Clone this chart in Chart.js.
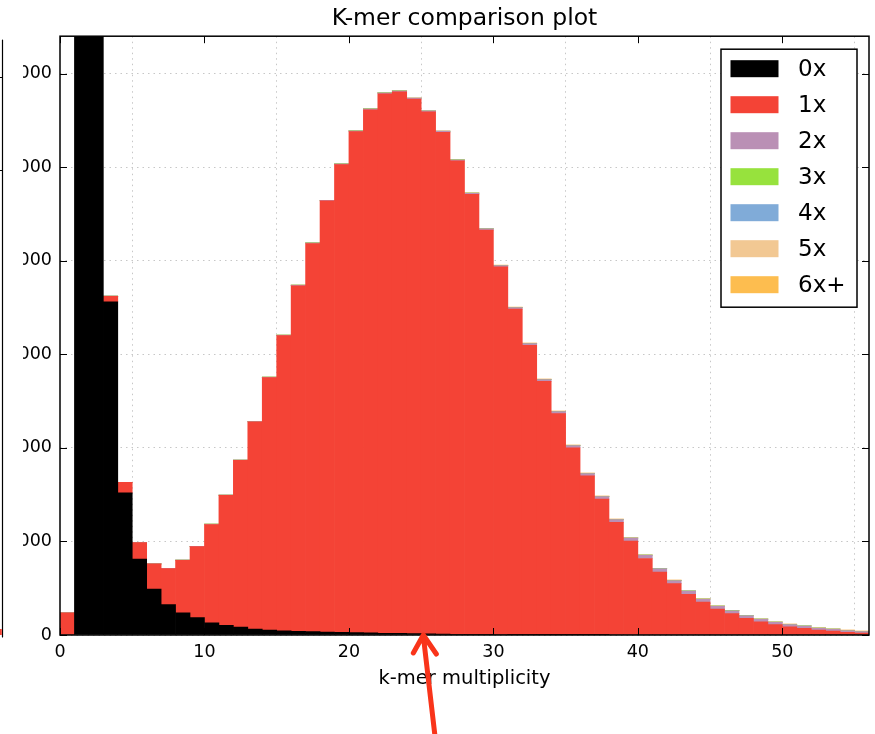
<!DOCTYPE html>
<html>
<head>
<meta charset="utf-8">
<title>K-mer comparison plot</title>
<script src="https://cdn.jsdelivr.net/npm/chart.js@4.4.1/dist/chart.umd.min.js"></script>
<style>
  html, body { margin: 0; padding: 0; background: #fff; }
  #wrap { position: relative; width: 875px; height: 734px; }
</style>
</head>
<body>
<div id="wrap"><canvas id="kmerChart" width="875" height="734"></canvas></div>
<script>
// histogram bins (left edge of each unit-wide bin)
const binStart = [
  0, 1, 2, 3, 4, 5, 6, 7, 8, 9,
  10, 11, 12, 13, 14, 15, 16, 17, 18, 19,
  20, 21, 22, 23, 24, 25, 26, 27, 28, 29,
  30, 31, 32, 33, 34, 35, 36, 37, 38, 39,
  40, 41, 42, 43, 44, 45, 46, 47, 48, 49,
  50, 51, 52, 53, 54, 55
];

// k-mers seen 0x, 1x, 2x ... in the second dataset
const kmer0x = [
  0, 16500, 9200, 3561, 1520, 812, 491, 324, 238, 185,
  131, 104, 85, 64, 53, 45, 40, 36, 32, 28,
  25, 22, 19, 17, 15, 12, 10, 8, 7, 6,
  5, 4, 3, 2, 2, 1, 1, 1, 0, 0,
  0, 0, 0, 0, 0, 0, 0, 0, 0, 0,
  0, 0, 0, 0, 0, 0
];
const kmer1x = [
  238, 300, 200, 60, 111, 177, 269, 386, 561, 760,
  1050, 1388, 1781, 2214, 2698, 3154, 3693, 4148, 4608, 4999,
  5355, 5592, 5766, 5789, 5712, 5579, 5363, 5059, 4703, 4322,
  3929, 3479, 3094, 2708, 2364, 2000, 1699, 1451, 1204, 1003,
  818, 672, 549, 436, 351, 277, 229, 177, 142, 111,
  88, 72, 52, 42, 29, 20
];
const kmer2x = [
  0, 0, 0, 1, 1, 1, 1, 2, 2, 2,
  3, 3, 3, 4, 4, 5, 5, 6, 6, 7,
  7, 8, 8, 8, 9, 9, 10, 10, 11, 12,
  14, 16, 18, 20, 22, 24, 26, 28, 30, 32,
  34, 34, 33, 32, 31, 30, 29, 27, 26, 25,
  24, 22, 20, 19, 18, 17
];
const kmer3x = [
  0, 0, 0, 0, 0, 0, 0, 0, 0, 0,
  1, 1, 1, 1, 1, 1, 1, 1, 1, 1,
  1, 1, 1, 1, 1, 1, 1, 1, 1, 1,
  1, 1, 1, 1, 1, 1, 1, 1, 1, 1,
  2, 2, 2, 2, 2, 2, 2, 2, 2, 2,
  2, 2, 2, 2, 2, 2
];
const kmer4x = [
  0, 0, 0, 0, 0, 0, 0, 0, 0, 0,
  0, 0, 0, 0, 0, 0, 0, 0, 0, 0,
  1, 1, 1, 1, 1, 1, 1, 1, 1, 1,
  1, 1, 1, 1, 1, 1, 1, 1, 1, 1,
  1, 1, 1, 1, 1, 1, 1, 1, 1, 1,
  1, 1, 1, 1, 1, 1
];
const kmer5x = [
  0, 0, 0, 0, 0, 0, 0, 0, 0, 0,
  0, 0, 0, 0, 0, 0, 0, 0, 0, 0,
  2, 2, 2, 2, 2, 2, 2, 2, 2, 2,
  2, 2, 2, 2, 2, 2, 2, 2, 2, 2,
  2, 2, 2, 2, 2, 2, 2, 2, 2, 2,
  2, 2, 2, 2, 2, 2
];
const kmer6xPlus = [
  0, 0, 0, 0, 0, 0, 0, 0, 0, 0,
  0, 0, 0, 0, 0, 0, 0, 0, 0, 0,
  1, 1, 1, 1, 1, 1, 1, 1, 1, 1,
  1, 1, 1, 1, 1, 1, 1, 1, 1, 1,
  1, 1, 1, 1, 1, 1, 1, 1, 1, 1,
  1, 1, 1, 1, 1, 1
];

const seriesLabels = ['0x', '1x', '2x', '3x', '4x', '5x', '6x+'];
const seriesColors = ['#000000', '#f44336', '#ba90b5', '#97e23d', '#80abd8', '#f2c893', '#fdbd4f'];
const xTicks = [0, 10, 20, 30, 40, 50];
const yTicks = [0, 1000, 2000, 3000, 4000, 5000, 6000];

const FONT = "'DejaVu Sans', sans-serif";
const GRID = 'rgba(0, 0, 0, 0.22)';

const toPoints = values => values.map((v, i) => ({ x: binStart[i] + 0.5, y: v }));
const allSeries = [kmer0x, kmer1x, kmer2x, kmer3x, kmer4x, kmer5x, kmer6xPlus];

const datasets = allSeries.map((values, i) => ({
    label: seriesLabels[i],
    data: toPoints(values),
    backgroundColor: seriesColors[i],
    borderWidth: 0,
    barPercentage: 1,
    categoryPercentage: 1,
    clip: 0
}));

// matplotlib-style frame with inward ticks on all four sides
const framePlugin = {
    id: 'frame',
    afterDraw(chart) {
        const { ctx, chartArea: a, scales: { x, y } } = chart;
        ctx.save();
        ctx.strokeStyle = '#000';
        ctx.lineWidth = 1;
        ctx.beginPath();
        xTicks.forEach(v => {
            const px = Math.round(x.getPixelForValue(v)) + 0.5;
            ctx.moveTo(px, a.bottom); ctx.lineTo(px, a.bottom - 7);
            ctx.moveTo(px, a.top); ctx.lineTo(px, a.top + 7);
        });
        yTicks.forEach(v => {
            const py = Math.round(y.getPixelForValue(v)) + 0.5;
            ctx.moveTo(a.left, py); ctx.lineTo(a.left + 7, py);
            ctx.moveTo(a.right, py); ctx.lineTo(a.right - 7, py);
        });
        ctx.stroke();
        ctx.lineWidth = 1.5;
        ctx.strokeRect(a.left, a.top, a.right - a.left, a.bottom - a.top);
        ctx.restore();
    }
};

// boxed legend in the upper right corner of the plot
const boxLegendPlugin = {
    id: 'boxLegend',
    afterDraw(chart) {
        const { ctx, chartArea: a } = chart;
        const left = a.right - 148, top = a.top + 13;
        const w = 136, h = 258;
        ctx.save();
        ctx.fillStyle = '#fff';
        ctx.fillRect(left, top, w, h);
        ctx.strokeStyle = '#000';
        ctx.lineWidth = 1.5;
        ctx.strokeRect(left, top, w, h);
        ctx.font = `23px ${FONT}`;
        ctx.textBaseline = 'middle';
        chart.data.datasets.forEach((ds, i) => {
            const cy = top + 19.5 + i * 36;
            ctx.fillStyle = ds.backgroundColor;
            ctx.fillRect(left + 9.5, cy - 8.5, 48, 17);
            ctx.fillStyle = '#000';
            ctx.fillText(ds.label, left + 77, cy + 1);
        });
        ctx.restore();
    }
};

// red arrow pointing up at the x axis, plus the edge of the neighbouring panel
const markupPlugin = {
    id: 'markup',
    afterDraw(chart) {
        const { ctx, chartArea: a, scales: { x } } = chart;
        const tipX = x.getPixelForValue(25.15), tipY = a.bottom - 1;
        ctx.save();
        ctx.strokeStyle = '#f9341a';
        ctx.lineWidth = 5;
        ctx.lineCap = 'round';
        ctx.lineJoin = 'round';
        ctx.beginPath();
        ctx.moveTo(tipX + 12, chart.height + 5);
        ctx.lineTo(tipX, tipY + 2);
        ctx.moveTo(tipX - 10, tipY + 19);
        ctx.lineTo(tipX, tipY + 1);
        ctx.lineTo(tipX + 13, tipY + 20);
        ctx.stroke();

        ctx.fillStyle = '#fff';
        ctx.fillRect(0, 0, 23, chart.height);
        ctx.strokeStyle = '#000';
        ctx.lineWidth = 1.2;
        ctx.beginPath();
        ctx.moveTo(2.5, 40);
        ctx.lineTo(2.5, a.bottom + 2);
        ctx.moveTo(0, 77.5); ctx.lineTo(2.5, 77.5);
        ctx.moveTo(0, 170.5); ctx.lineTo(2.5, 170.5);
        ctx.stroke();
        ctx.fillStyle = '#f44336';
        ctx.fillRect(0, a.bottom - 6, 1.8, 6);
        ctx.restore();
    }
};

new Chart(document.getElementById('kmerChart').getContext('2d'), {
    type: 'bar',
    data: { datasets },
    options: {
        responsive: false,
        animation: false,
        layout: { padding: { left: 0, right: 6, top: 0, bottom: 0 } },
        plugins: {
            legend: { display: false },
            tooltip: { enabled: false },
            title: {
                display: true,
                fullSize: false,
                text: 'K-mer comparison plot',
                color: '#000',
                font: { family: FONT, size: 23.5, weight: 'normal' },
                padding: { top: 5, bottom: 3 }
            }
        },
        scales: {
            x: {
                type: 'linear',
                stacked: true,
                min: 0,
                max: 56,
                offset: false,
                z: 1,
                afterBuildTicks: s => { s.ticks = xTicks.map(v => ({ value: v })); },
                afterFit: s => { s.height = 99; },
                ticks: {
                    color: '#000',
                    font: { family: FONT, size: 17.5 },
                    padding: 6.5,
                    maxRotation: 0,
                    autoSkip: false
                },
                grid: { drawTicks: false, color: GRID, lineWidth: 1 },
                border: { display: false, dash: [1.5, 4] },
                title: {
                    display: true,
                    text: 'k-mer multiplicity',
                    color: '#000',
                    font: { family: FONT, size: 19.5 },
                    padding: { top: 0, bottom: 43 }
                }
            },
            y: {
                stacked: true,
                min: 0,
                max: 6400,
                z: 1,
                afterBuildTicks: s => { s.ticks = yTicks.map(v => ({ value: v })); },
                afterFit: s => { s.width = 60; },
                ticks: {
                    color: '#000',
                    font: { family: FONT, size: 17.5 },
                    padding: 8,
                    callback: v => String(v)
                },
                grid: { drawTicks: false, color: GRID, lineWidth: 1 },
                border: { display: false, dash: [1.5, 4] }
            }
        }
    },
    plugins: [framePlugin, boxLegendPlugin, markupPlugin]
});
</script>
</body>
</html>
